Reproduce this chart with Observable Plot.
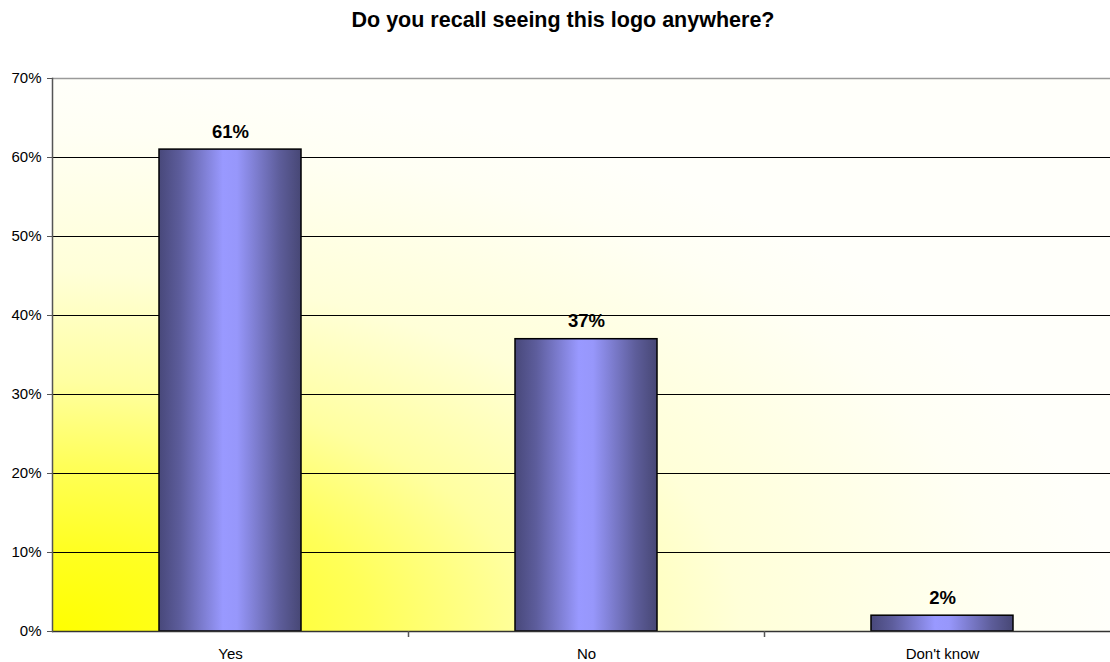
<!DOCTYPE html>
<html>
<head>
<meta charset="utf-8">
<script src="https://cdn.jsdelivr.net/npm/d3@7"></script>
<script src="https://cdn.jsdelivr.net/npm/@observablehq/plot@0.6"></script>
<style>
  html, body { margin: 0; padding: 0; background: #ffffff; overflow: hidden; }
  #title { width: 1110px; height: 40px; line-height: 40px; box-sizing: border-box; padding-left: 16px;
           text-align: center; font-family: "Liberation Sans", Arial, sans-serif; font-weight: bold; font-size: 21.5px; color: #000; }
  #chart svg { display: block; overflow: hidden; }
</style>
</head>
<body>
<div id="title">Do you recall seeing this logo anywhere?</div>
<div id="chart"></div>
<script>
const categories = ["Yes", "No", "Don't know"];
const values = [0.61, 0.37, 0.02];
const valueLabels = ["61%", "37%", "2%"];
const yTicks = [0, 0.1, 0.2, 0.3, 0.4, 0.5, 0.6, 0.7];
const yTickLabels = ["0%", "10%", "20%", "30%", "40%", "50%", "60%", "70%"];

const data = categories.map((c, i) => ({category: c, value: values[i], label: valueLabels[i]}));

const chart = Plot.plot({
  width: 1110,
  height: 622,
  marginTop: 38,
  marginBottom: 31,
  marginLeft: 52,
  marginRight: 0,
  style: {fontFamily: "'Liberation Sans', Arial, sans-serif", background: "transparent", color: "#000"},
  x: {domain: categories, range: [52.5, 1120.5], paddingInner: 0.6, paddingOuter: 0.3, label: null},
  y: {domain: [0, 0.7], label: null},
  marks: [
    Plot.frame({fill: "url(#bgGrad)", stroke: null}),
    Plot.ruleY(yTicks.slice(1, -1), {stroke: "#000", strokeWidth: 1}),
    Plot.ruleY([0.7], {stroke: "#9a9a9a", strokeWidth: 1.5}),
    Plot.barY(data, {x: "category", y: "value", fill: "url(#barGrad)", stroke: "#000", strokeWidth: 1.5}),
    Plot.ruleY([0], {stroke: "#333", strokeWidth: 1.5}),
    Plot.frame({anchor: "left", stroke: "#555", strokeWidth: 1.5}),
    Plot.ruleX(categories.slice(1), {x: d => d, dx: -178, y1: 0, y2: 0, insetBottom: -6, stroke: "#555", strokeWidth: 1.5}),
    Plot.text(data, {x: "category", y: "value", text: "label", lineAnchor: "bottom", dy: -12,
                     fontWeight: "bold", fontSize: 18.5, fill: "#000"}),
    Plot.axisY({ticks: yTicks, tickFormat: d => yTickLabels[yTicks.indexOf(d)], tickSize: 5, tickPadding: 6,
                fontSize: 15, stroke: "#555", label: null}),
    Plot.axisX({tickSize: 0, tickPadding: 17, fontSize: 15, label: null})
  ]
});

const svg = d3.select(chart);
const defs = svg.insert("defs", ":first-child");
const bg = defs.append("radialGradient").attr("id", "bgGrad")
  .attr("gradientUnits", "objectBoundingBox").attr("cx", 0).attr("cy", 1).attr("fx", 0).attr("fy", 1).attr("r", 1);
[[0, "#ffff00"], [0.15, "#ffff22"], [0.3, "#ffff58"], [0.45, "#ffffa0"], [0.65, "#ffffd8"], [0.9, "#fffff4"], [1, "#fffffa"]]
  .forEach(([o, c]) => bg.append("stop").attr("offset", o).attr("stop-color", c));
const bar = defs.append("linearGradient").attr("id", "barGrad")
  .attr("x1", 0).attr("y1", 0).attr("x2", 1).attr("y2", 0);
[[0, "#48487a"], [0.15, "#5d5d9c"], [0.45, "#9999ff"], [0.55, "#9797fb"], [0.85, "#5d5d9a"], [1, "#474775"]]
  .forEach(([o, c]) => bar.append("stop").attr("offset", o).attr("stop-color", c));

document.getElementById("chart").appendChild(chart);
</script>
</body>
</html>
